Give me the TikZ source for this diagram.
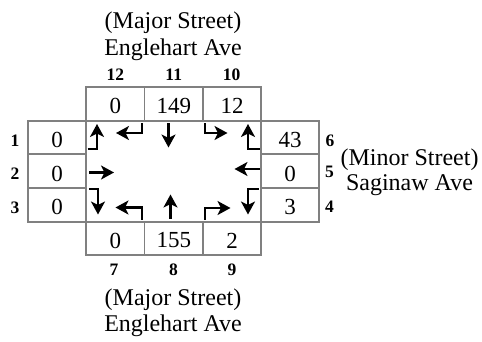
\documentclass[tikz,border=0pt]{standalone}
\usepackage{fontspec}
\setmainfont{Liberation Serif}
\usetikzlibrary{arrows.meta}
\begin{document}
\begin{tikzpicture}[x=1pt,y=-1pt,
  grid/.style={draw=black!50, line width=1.8pt},
  num/.style={font=\fontsize{23}{23}\selectfont, inner sep=0pt},
  lab/.style={font=\fontsize{17.5}{17.5}\selectfont\bfseries, inner sep=0pt},
  street/.style={font=\fontsize{24}{27}\selectfont, inner sep=0pt, anchor=base},
  mv/.style={line width=2.8pt, line join=miter, -{Stealth[length=13pt,width=14pt,inset=3.5pt]}}]
\useasboundingbox (0,0) rectangle (482,341);

% grid cells
\draw[grid] (86,87) rectangle (144.5,121);
\draw[grid] (144.5,87) rectangle (203,121);
\draw[grid] (203,87) rectangle (261,121);
\draw[grid] (86,221.7) rectangle (144.5,255);
\draw[grid] (144.5,221.7) rectangle (203,255);
\draw[grid] (203,221.7) rectangle (261,255);
\draw[grid] (28,121) rectangle (86,154);
\draw[grid] (28,154) rectangle (86,188);
\draw[grid] (28,188) rectangle (86,221.7);
\draw[grid] (261,121) rectangle (319,154);
\draw[grid] (261,154) rectangle (319,188);
\draw[grid] (261,188) rectangle (319,221.7);

% volumes
\node[num] (v12) at (115.25,106) {0};
\node[num] (v11) at (173.75,106) {149};
\node[num] (v10) at (232,106) {12};
\node[num] (v7) at (115.25,240.5) {0};
\node[num] (v8) at (173.75,240.5) {155};
\node[num] (v9) at (232,240.5) {2};
\node[num] (v1) at (57,140) {0};
\node[num] (v2) at (57,173.5) {0};
\node[num] (v3) at (57,207) {0};
\node[num] (v6) at (290,140) {43};
\node[num] (v5) at (290,173.5) {0};
\node[num] (v4) at (290,207) {3};

% movement labels
\node[lab,anchor=base] (l12) at (115.25,80) {12};
\node[lab,anchor=base] (l11) at (173.75,80) {11};
\node[lab,anchor=base] (l10) at (231.5,80) {10};
\node[lab,anchor=base] (l7) at (114,275) {7};
\node[lab,anchor=base] (l8) at (173.5,275) {8};
\node[lab,anchor=base] (l9) at (232,275) {9};
\node[lab] (l1) at (15,140.5) {1};
\node[lab] (l2) at (15,174) {2};
\node[lab] (l3) at (15,208) {3};
\node[lab] (l6) at (330,140.5) {6};
\node[lab] (l5) at (329.5,171.5) {5};
\node[lab] (l4) at (329.5,206.5) {4};

% street names
\node[street] (tmaj) at (173,28) {(Major Street)};
\node[street] (tname) at (173,55) {Englehart Ave};
\node[street] (bmaj) at (173,305) {(Major Street)};
\node[street] (bname) at (173,331.7) {Englehart Ave};
\node[street] (rmin) at (409.5,165) {(Minor Street)};
\node[street] (rname) at (409.5,190) {Saginaw Ave};

% movement arrows
\draw[mv] (87.5,149) -- (97,149) -- (97,124);
\draw[mv] (142,123) -- (142,133) -- (116,133);
\draw[mv] (168.5,123) -- (168.5,147.5);
\draw[mv] (205,123) -- (205,133) -- (227.5,133);
\draw[mv] (259.5,149) -- (248,149) -- (248,124);
\draw[mv] (89,172.5) -- (114,172.5);
\draw[mv] (259.5,169) -- (234.5,169);
\draw[mv] (89,189) -- (98,189) -- (98,214.5);
\draw[mv] (142,219.5) -- (142,207.5) -- (115.5,207.5);
\draw[mv] (170.5,218.5) -- (170.5,194.5);
\draw[mv] (205,219.5) -- (205,208) -- (230.5,208);
\draw[mv] (258.5,189) -- (248,189) -- (248,214.5);
\end{tikzpicture}
\end{document}
